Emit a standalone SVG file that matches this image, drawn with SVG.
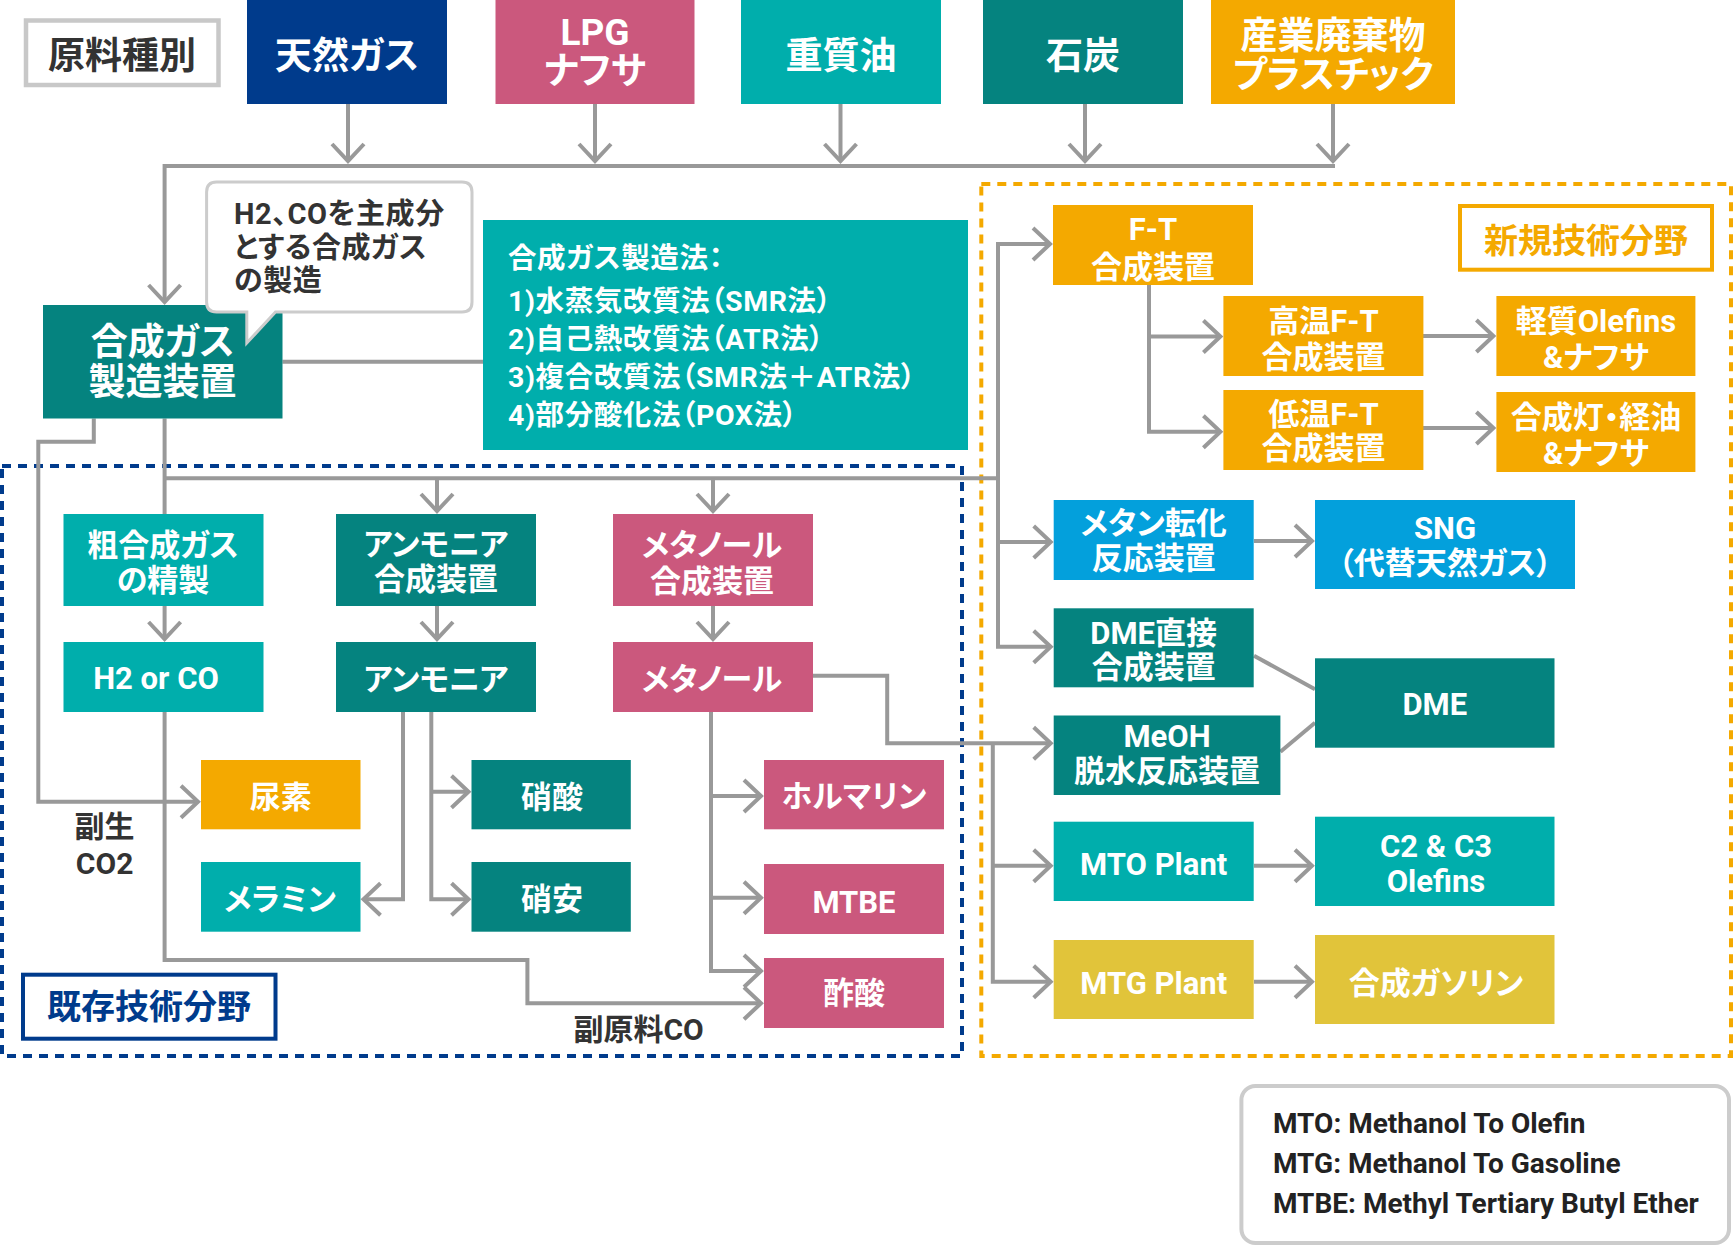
<svg xmlns="http://www.w3.org/2000/svg" width="1734" height="1247" viewBox="0 0 1734 1247">
<defs>
<style>
text{font-family:Roboto,"Noto Sans CJK JP",sans-serif;font-weight:700;font-feature-settings:"palt";}
.w{fill:#fff;text-anchor:middle;font-size:31px}
.top{fill:#fff;text-anchor:middle;font-size:37px}
.dk{fill:#333}
.c{fill:none;stroke:#999;stroke-width:4;stroke-linejoin:miter}
.a{marker-end:url(#ah)}
.navy{fill:#003b8c}
.pink{fill:#cb587d}
.lt{fill:#00aeac}
.dt{fill:#05837f}
.or{fill:#f4a900}
.sky{fill:#03a0dc}
.ye{fill:#e1c43a}
.m{fill:#fff;font-size:28.5px;letter-spacing:0.6px}
.cl{fill:#333;font-size:29px;letter-spacing:0.6px}
.lg{fill:#222;font-size:28px}
</style>
<marker id="ah" markerUnits="userSpaceOnUse" markerWidth="40" markerHeight="40" refX="0" refY="0" orient="auto" overflow="visible">
<path d="M-17,-16 L0,0 L-17,16" fill="none" stroke="#999" stroke-width="4"/>
</marker>
</defs>
<rect width="1734" height="1247" fill="#fff"/>

<g id="areas">
<rect x="2" y="466" width="960" height="590" fill="none" stroke="#003b8c" stroke-width="4" stroke-dasharray="9 7"/>
<rect x="981.3" y="184" width="749.7" height="872" fill="none" stroke="#f4a900" stroke-width="4" stroke-dasharray="9 7"/>
</g>

<g id="connectors" class="c">
<path class="a" d="M348,104 V161"/>
<path class="a" d="M595,104 V161"/>
<path class="a" d="M840.5,104 V161"/>
<path class="a" d="M1085,104 V161"/>
<path class="a" d="M1333,104 V161"/>
<path class="a" d="M1335,166 H164.6 V302"/>
<path d="M282.4,361.7 H483"/>
<path class="a" d="M93.8,418.5 V441.7 H38.3 V801.7 H198"/>
<path d="M164.6,418.5 V514"/>
<path d="M164.6,478.3 H998"/>
<path class="a" d="M437,478.3 V511"/>
<path class="a" d="M713,478.3 V511"/>
<path class="a" d="M998,244 H1050"/>
<path class="a" d="M998,242 V646.7 H1050.7"/>
<path class="a" d="M998,542 H1050.7"/>
<path class="a" d="M1149,285 V431.7 H1220.4"/>
<path class="a" d="M1149,336.5 H1220.4"/>
<path class="a" d="M1423,336 H1493.4"/>
<path class="a" d="M1423,428 H1493.4"/>
<path class="a" d="M1254,541 H1312"/>
<path d="M1254,655.7 L1315,689.3"/>
<path d="M1280.4,751.7 L1315,722.7"/>
<path class="a" d="M812.6,675.7 H887.2 V743.3 H1050.7"/>
<path class="a" d="M992.8,743.3 V981.7 H1050.7"/>
<path class="a" d="M992.8,865.7 H1050.7"/>
<path class="a" d="M1254,865.7 H1312"/>
<path class="a" d="M1254,981.7 H1312"/>
<path class="a" d="M164.6,606 V639"/>
<path class="a" d="M437,606 V639"/>
<path class="a" d="M713,606 V639"/>
<path class="a" d="M164.6,712 V960 H527.4 V1003.3 H761"/>
<path class="a" d="M403,712 V899.3 H363.5"/>
<path class="a" d="M431.3,712 V899.3 H468.5"/>
<path class="a" d="M431.3,791.7 H468.5"/>
<path class="a" d="M711,712 V971 H761"/>
<path class="a" d="M711,796 H761"/>
<path class="a" d="M711,897.7 H761"/>
</g>

<g id="n-genryo">
<rect x="26" y="20.5" width="192.5" height="64.5" fill="#fff" stroke="#c8c8c8" stroke-width="4.5"/>
<text x="122" y="68.5" class="dk" font-size="37" text-anchor="middle">原料種別</text>
</g>
<g id="n-tennen"><rect x="247" y="0" width="200" height="104" class="navy"/><text x="347" y="68.7" class="top">天然ガス</text></g>
<g id="n-lpg"><rect x="495.5" y="0" width="199" height="104" class="pink"/><text x="595" y="45" class="top">LPG</text><text x="595" y="83.7" class="top">ナフサ</text></g>
<g id="n-jushitsu"><rect x="741" y="0" width="200" height="104" class="lt"/><text x="841" y="68.7" class="top">重質油</text></g>
<g id="n-sekitan"><rect x="983" y="0" width="200" height="104" class="dt"/><text x="1083" y="68.7" class="top">石炭</text></g>
<g id="n-haikibutsu"><rect x="1211" y="0" width="244" height="104" class="or"/><text x="1333" y="49" class="top" font-size="36.5">産業廃棄物</text><text x="1333" y="88" class="top" font-size="36.5">プラスチック</text></g>

<g id="n-syngas"><rect x="43" y="305" width="239.5" height="113.5" class="dt"/><text x="162.6" y="355" class="top" font-size="36">合成ガス</text><text x="162.6" y="395" class="top" font-size="36">製造装置</text></g>
<g id="n-callout">
<path d="M216.6,182 H462 Q472,182 472,192 V302 Q472,312 462,312 H275.5 L246.8,343 V312 H216.6 Q206.6,312 206.6,302 V192 Q206.6,182 216.6,182 Z" fill="#fff" stroke="#ccc" stroke-width="3"/>
<text x="234" y="224" class="cl">H2、COを主成分</text>
<text x="234" y="257.5" class="cl">とする合成ガス</text>
<text x="234" y="291" class="cl">の製造</text>
</g>
<g id="n-method"><rect x="483" y="220" width="485" height="230" class="lt"/>
<text x="508" y="268" class="m">合成ガス製造法：</text>
<text x="508" y="311" class="m">1)水蒸気改質法（SMR法）</text>
<text x="508" y="348.5" class="m">2)自己熱改質法（ATR法）</text>
<text x="508" y="386.5" class="m">3)複合改質法（SMR法＋ATR法）</text>
<text x="508" y="425" class="m">4)部分酸化法（POX法）</text>
</g>

<g id="n-ft"><rect x="1053" y="205" width="200" height="80" class="or"/><text x="1153" y="240" class="w">F-T</text><text x="1153" y="277.7" class="w">合成装置</text></g>
<g id="n-shinki"><rect x="1460" y="206" width="252" height="63.7" fill="#fff" stroke="#f4a900" stroke-width="4"/><text x="1586" y="252.6" fill="#f4a900" font-size="34" text-anchor="middle">新規技術分野</text></g>
<g id="n-koon"><rect x="1223.4" y="296" width="200" height="80" class="or"/><text x="1323.4" y="332" class="w">高温F-T</text><text x="1323.4" y="368" class="w">合成装置</text></g>
<g id="n-teion"><rect x="1223.4" y="390" width="200" height="80" class="or"/><text x="1323.4" y="425" class="w">低温F-T</text><text x="1323.4" y="459" class="w">合成装置</text></g>
<g id="n-keishitsu"><rect x="1496.4" y="296" width="199" height="80" class="or"/><text x="1596" y="332" class="w">軽質Olefins</text><text x="1596" y="368" class="w">&amp;ナフサ</text></g>
<g id="n-goseito"><rect x="1496.4" y="392" width="199" height="80" class="or"/><text x="1596" y="428" class="w">合成灯・経油</text><text x="1596" y="464" class="w">&amp;ナフサ</text></g>
<g id="n-methane"><rect x="1053.7" y="500" width="200" height="80" class="sky"/><text x="1153.7" y="533.5" class="w">メタン転化</text><text x="1153.7" y="569" class="w">反応装置</text></g>
<g id="n-sng"><rect x="1315" y="500" width="260" height="89" class="sky"/><text x="1445" y="538.5" class="w">SNG</text><text x="1445" y="574" class="w">（代替天然ガス）</text></g>
<g id="n-dmedirect"><rect x="1053.7" y="608.3" width="200" height="79" class="dt"/><text x="1153.7" y="643.5" class="w">DME直接</text><text x="1153.7" y="678" class="w">合成装置</text></g>
<g id="n-dme"><rect x="1315" y="658.3" width="239.5" height="89.4" class="dt"/><text x="1434.8" y="715" class="w">DME</text></g>
<g id="n-meoh"><rect x="1053.7" y="715.5" width="226.7" height="79.5" class="dt"/><text x="1167" y="746.6" class="w">MeOH</text><text x="1167" y="782" class="w">脱水反応装置</text></g>
<g id="n-mto"><rect x="1053.7" y="821.7" width="200" height="79.3" class="lt"/><text x="1153.7" y="875" class="w">MTO Plant</text></g>
<g id="n-c2c3"><rect x="1315" y="816.7" width="239.5" height="89.3" class="lt"/><text x="1436" y="856.5" class="w">C2 &amp; C3</text><text x="1436" y="892" class="w">Olefins</text></g>
<g id="n-mtg"><rect x="1053.7" y="940" width="200" height="79" class="ye"/><text x="1153.7" y="994" class="w">MTG Plant</text></g>
<g id="n-gasoline"><rect x="1315" y="935" width="239.5" height="89" class="ye"/><text x="1436" y="993.5" class="w">合成ガソリン</text></g>

<g id="n-soseisei"><rect x="63.5" y="514" width="200" height="92" class="lt"/><text x="163" y="556" class="w">粗合成ガス</text><text x="163" y="591" class="w">の精製</text></g>
<g id="n-h2co"><rect x="63.5" y="642" width="200" height="70" class="lt"/><text x="156" y="689" class="w">H2 or CO</text></g>
<g id="n-nh3synth"><rect x="336" y="514" width="200" height="92" class="dt"/><text x="436" y="555" class="w">アンモニア</text><text x="436" y="590" class="w">合成装置</text></g>
<g id="n-nh3"><rect x="336" y="642" width="200" height="70" class="dt"/><text x="436" y="690" class="w">アンモニア</text></g>
<g id="n-meohsynth"><rect x="613" y="514" width="200" height="92" class="pink"/><text x="712" y="556" class="w">メタノール</text><text x="712" y="592" class="w">合成装置</text></g>
<g id="n-methanol"><rect x="613" y="642" width="200" height="70" class="pink"/><text x="712" y="690" class="w">メタノール</text></g>
<g id="n-urea"><rect x="201" y="760" width="159.5" height="69.3" class="or"/><text x="280.7" y="808" class="w">尿素</text></g>
<g id="n-hno3"><rect x="471.5" y="760" width="159.3" height="69.3" class="dt"/><text x="552" y="808" class="w">硝酸</text></g>
<g id="n-melamine"><rect x="201" y="862" width="159.5" height="69.7" class="lt"/><text x="280" y="910" class="w">メラミン</text></g>
<g id="n-nh4no3"><rect x="471.5" y="862" width="159.3" height="69.7" class="dt"/><text x="552" y="910" class="w">硝安</text></g>
<g id="n-formalin"><rect x="764" y="760" width="180" height="69.3" class="pink"/><text x="854" y="807" class="w">ホルマリン</text></g>
<g id="n-mtbe"><rect x="764" y="864" width="180" height="70" class="pink"/><text x="854" y="912.5" class="w">MTBE</text></g>
<g id="n-acetic"><rect x="764" y="958" width="180" height="70" class="pink"/><text x="854" y="1004" class="w">酢酸</text></g>

<g id="labels">
<text x="104.6" y="837" class="dk" font-size="30" text-anchor="middle">副生</text>
<text x="104.6" y="874" class="dk" font-size="30" text-anchor="middle">CO2</text>
<text x="573.4" y="1040" class="dk" font-size="30">副原料CO</text>
</g>
<g id="n-kizon"><rect x="23" y="974.7" width="252.5" height="64" fill="#fff" stroke="#003b8c" stroke-width="4"/><text x="149" y="1019" fill="#003b8c" font-size="34" text-anchor="middle">既存技術分野</text></g>

<g id="legend">
<rect x="1241.4" y="1086" width="487.6" height="157" rx="14" fill="#fff" stroke="#ccc" stroke-width="4"/>
<text x="1273" y="1133" class="lg">MTO: Methanol To Olefin</text>
<text x="1273" y="1173" class="lg">MTG: Methanol To Gasoline</text>
<text x="1273" y="1213" class="lg">MTBE: Methyl Tertiary Butyl Ether</text>
</g>
</svg>
